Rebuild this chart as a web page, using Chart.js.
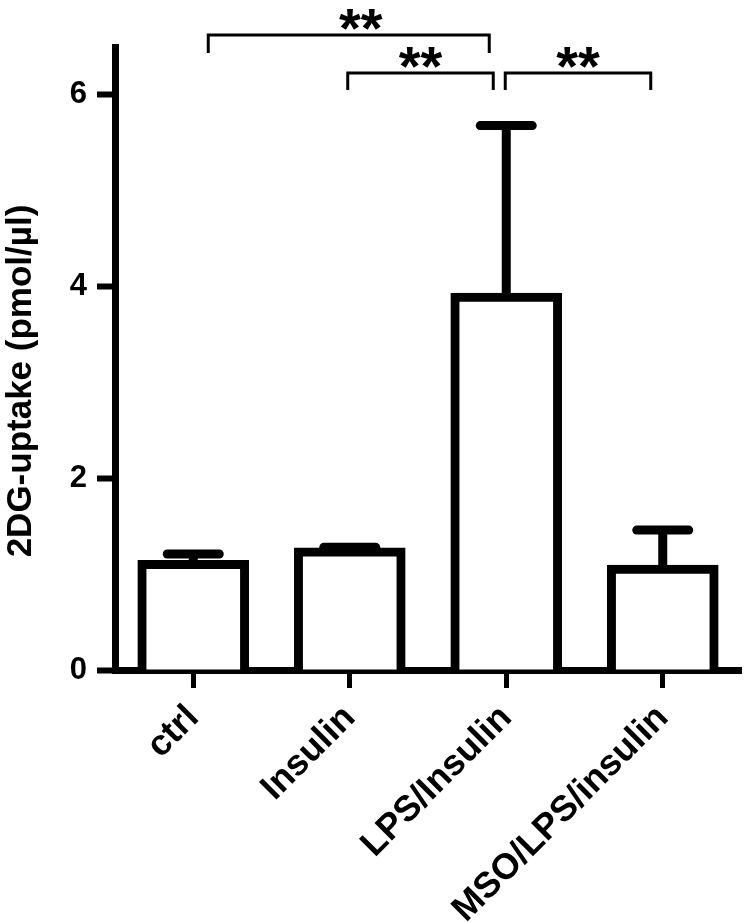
<!DOCTYPE html>
<html><head><meta charset="utf-8">
<script src="https://cdn.jsdelivr.net/npm/chart.js@4.4.1/dist/chart.umd.min.js"></script>
<style>html,body{margin:0;padding:0;background:#fff}</style>
</head><body>
<canvas id="c" width="750" height="922"></canvas>
<script>
// ---- data ----
const categories = ['ctrl', 'Insulin', 'LPS/Insulin', 'MSO/LPS/insulin'];
const meanValues = [1.10, 1.23, 3.89, 1.05];
const errorValues = [0.11, 0.05, 1.79, 0.41];
const yTickValues = [0, 2, 4, 6];
const yAxisTitle = '2DG-uptake (pmol/µl)';
const comparisonFrom = [0, 1, 2];
const comparisonTo = [2, 2, 3];
const comparisonLabels = ['**', '**', '**'];

const FONT = 'Liberation Sans, Arial, sans-serif';

// bracket styling (pixel geometry, not data)
const bracketStyle = [
  { y: 35, leg: 18, inL: 15, inR: -17, starDx: 12 },
  { y: 73, leg: 17, inL: -2, inR: -13, starDx: 0 },
  { y: 73, leg: 17, inL: -1, inR: -12, starDx: 0 }
];

const annotate = {
  id: 'annotate',
  afterDatasetsDraw(chart) {
    const ctx = chart.ctx, xs = chart.scales.x, ys = chart.scales.y;
    const meta = chart.getDatasetMeta(0);
    ctx.save();
    ctx.strokeStyle = '#000';
    ctx.fillStyle = '#000';
    // error bars (upper only)
    meta.data.forEach((bar, i) => {
      const cx = bar.x;
      const yMean = ys.getPixelForValue(meanValues[i]);
      const yTop = ys.getPixelForValue(meanValues[i] + errorValues[i]);
      ctx.lineWidth = 9;
      ctx.lineCap = 'butt';
      ctx.beginPath(); ctx.moveTo(cx, yMean); ctx.lineTo(cx, yTop); ctx.stroke();
      ctx.lineCap = 'round';
      ctx.beginPath(); ctx.moveTo(cx - 26, yTop); ctx.lineTo(cx + 26, yTop); ctx.stroke();
    });
    // significance brackets
    ctx.lineWidth = 3;
    ctx.lineCap = 'butt';
    ctx.lineJoin = 'miter';
    comparisonFrom.forEach((from, k) => {
      const st = bracketStyle[k];
      const x1 = xs.getPixelForValue(from) + st.inL;
      const x2 = xs.getPixelForValue(comparisonTo[k]) + st.inR;
      ctx.beginPath();
      ctx.moveTo(x1, st.y + st.leg);
      ctx.lineTo(x1, st.y);
      ctx.lineTo(x2, st.y);
      ctx.lineTo(x2, st.y + st.leg);
      ctx.stroke();
      ctx.font = 'bold 56px ' + FONT;
      ctx.textAlign = 'center';
      ctx.textBaseline = 'alphabetic';
      ctx.fillText(comparisonLabels[k], (x1 + x2) / 2 + st.starDx, st.y + 12);
    });
    // y-axis title
    ctx.translate(21, 381);
    ctx.rotate(-Math.PI / 2);
    ctx.font = 'bold 35px ' + FONT;
    ctx.textAlign = 'center';
    ctx.textBaseline = 'middle';
    ctx.fillText(yAxisTitle, 0, 0);
    ctx.restore();
  }
};

new Chart(document.getElementById('c'), {
  type: 'bar',
  data: {
    labels: categories,
    datasets: [{
      data: meanValues,
      backgroundColor: '#ffffff',
      borderColor: '#000000',
      borderWidth: 9,
      borderSkipped: 'start',
      inflateAmount: 4.5,
      barPercentage: 0.656,
      categoryPercentage: 1
    }]
  },
  options: {
    responsive: false,
    animation: false,
    devicePixelRatio: 1,
    layout: { padding: { top: 47, right: 9, left: 0, bottom: 0 } },
    plugins: { legend: { display: false }, tooltip: { enabled: false } },
    scales: {
      x: {
        grid: { display: true, drawOnChartArea: false, drawTicks: true, tickLength: 18, tickWidth: 5, tickColor: '#000', offset: false },
        border: { display: true, width: 7, color: '#000' },
        ticks: { color: '#000', font: { family: FONT, weight: 'bold', size: 36 }, maxRotation: 45, minRotation: 45, padding: 9, autoSkip: false },
        afterFit(axis) { axis.height = 252; }
      },
      y: {
        min: 0, max: 6.5,
        grid: { display: true, drawOnChartArea: false, drawTicks: true, tickLength: 18, tickWidth: 6, tickColor: '#000' },
        border: { display: true, width: 7, color: '#000' },
        ticks: { color: '#000', font: { family: FONT, weight: 'bold', size: 31 }, padding: 10, stepSize: 2 },
        afterBuildTicks(axis) { axis.ticks = yTickValues.map(v => ({ value: v })); },
        title: { display: false, text: yAxisTitle },
        afterFit(axis) { axis.width = 115; }
      }
    }
  },
  plugins: [annotate]
});
</script>
</body></html>
